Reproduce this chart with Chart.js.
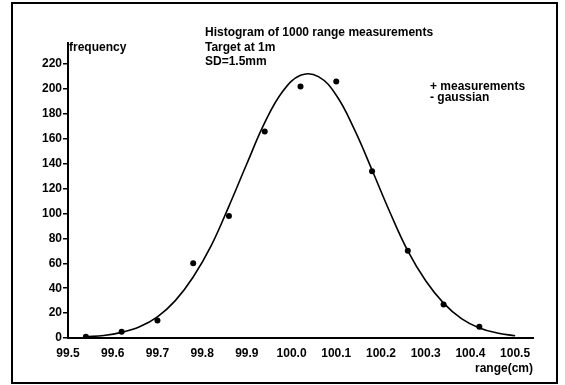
<!DOCTYPE html>
<html>
<head>
<meta charset="utf-8">
<script src="https://cdn.jsdelivr.net/npm/chart.js@4/dist/chart.umd.min.js"></script>
<style>
  html, body { margin: 0; padding: 0; background: #fff; }
  #wrap { position: relative; width: 565px; height: 385px; }
</style>
</head>
<body>
<div id="wrap"><canvas id="c" width="565" height="385"></canvas></div>
<script>
"use strict";

// Histogramme : 1000 mesures de distance, cible à 1 m
const measX = [99.54, 99.62, 99.70, 99.78, 99.86, 99.94, 100.02, 100.10, 100.18, 100.26, 100.34, 100.42];
const measY = [1, 5, 14, 60, 98, 166, 202, 206, 134, 70, 27, 9];

// courbe gaussienne
const curveX = [99.54, 99.58, 99.62, 99.66, 99.70, 99.74, 99.78, 99.82, 99.86, 99.90, 99.94, 99.98,
  100.02, 100.06, 100.10, 100.14, 100.18, 100.22, 100.26, 100.30, 100.34, 100.38, 100.42, 100.46, 100.50];
const curveY = [1, 2, 4.5, 9, 17, 30, 49, 74, 106, 140, 173, 198,
  211, 210, 195, 168, 135, 101, 70, 46, 28, 15.5, 8, 4, 1.8];

const xTicks = [99.5, 99.6, 99.7, 99.8, 99.9, 100.0, 100.1, 100.2, 100.3, 100.4, 100.5];
const yTicks = [0, 20, 40, 60, 80, 100, 120, 140, 160, 180, 200, 220];

const titleLines = ["Histogram of 1000 range measurements", "Target at 1m", "SD=1.5mm"];
const legendLines = ["+ measurements", "- gaussian"];

const FONT = '"Liberation Sans", Arial, sans-serif';

const decor = {
  id: "decor",
  afterDraw(chart) {
    const { ctx, chartArea } = chart;
    ctx.save();
    ctx.fillStyle = "#000";
    ctx.font = "bold 12px " + FONT;
    ctx.textBaseline = "middle";
    ctx.textAlign = "left";
    titleLines.forEach((t, i) => ctx.fillText(t, 205, 33 + i * 14.5));
    legendLines.forEach((t, i) => ctx.fillText(t, 430, 87 + i * 10.5));
    ctx.fillText("frequency", chartArea.left + 1, 48);
    ctx.textAlign = "right";
    ctx.fillText("range(cm)", chartArea.right, 369);
    // cadre
    ctx.strokeStyle = "#000";
    ctx.lineWidth = 2;
    ctx.strokeRect(12, 3, 545, 380);
    ctx.restore();
  },
};

new Chart(document.getElementById("c"), {
  type: "scatter",
  data: {
    datasets: [
      {
        label: "gaussian",
        data: curveX.map((x, i) => ({ x, y: curveY[i] })),
        showLine: true,
        borderColor: "#000",
        borderWidth: 1.6,
        pointRadius: 0,
        tension: 0.4,
        fill: false,
      },
      {
        label: "measurements",
        data: measX.map((x, i) => ({ x, y: measY[i] })),
        pointRadius: 3,
        pointBackgroundColor: "#000",
        pointBorderColor: "#000",
        pointBorderWidth: 0,
      },
    ],
  },
  options: {
    responsive: false,
    animation: false,
    layout: { padding: { left: 0, top: 43, right: 32, bottom: 22 } },
    plugins: { legend: { display: false }, tooltip: { enabled: false } },
    scales: {
      x: {
        type: "linear",
        min: 99.5,
        max: 100.54,
        afterBuildTicks: (s) => { s.ticks = xTicks.map((v) => ({ value: v })); },
        afterFit: (s) => { s.height = 25; },
        grid: { display: false },
        border: { display: true, color: "#000", width: 2 },
        ticks: {
          color: "#000",
          font: { family: FONT, size: 12, weight: "bold" },
          padding: 0,
          maxRotation: 0,
          autoSkip: false,
          callback: (v) => v.toFixed(1),
        },
      },
      y: {
        min: 0,
        max: 237,
        afterBuildTicks: (s) => { s.ticks = yTicks.map((v) => ({ value: v })); },
        afterFit: (s) => { s.width = 68; },
        grid: { drawOnChartArea: false, drawTicks: true, tickLength: 5, color: "#000", lineWidth: 1.5 },
        border: { display: true, color: "#000", width: 2 },
        ticks: {
          color: "#000",
          font: { family: FONT, size: 12, weight: "bold" },
          padding: 1,
          autoSkip: false,
        },
      },
    },
  },
  plugins: [decor],
});
</script>
</body>
</html>
